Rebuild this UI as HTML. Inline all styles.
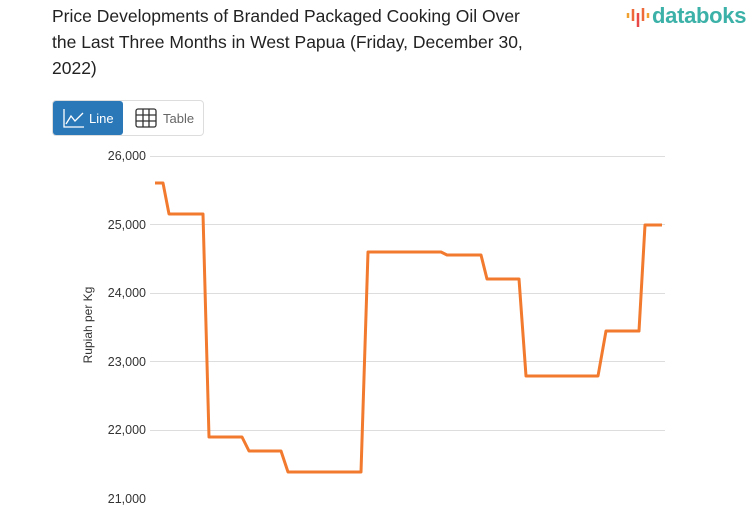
<!DOCTYPE html>
<html><head><style>
body{margin:0;width:753px;height:498px;overflow:hidden;background:#fff;font-family:"Liberation Sans",sans-serif;position:relative}
.t{position:absolute;left:52px;top:3px;font-size:17.5px;line-height:26px;color:#222;width:495px}
.logo{position:absolute;left:652px;top:3px;font-size:22px;color:#3bb1a8;font-weight:bold;letter-spacing:-0.3px}
.btns{position:absolute;left:52px;top:100px;width:150px;height:34px;border:1px solid #ddd;border-radius:4px}
.b1{position:absolute;left:0;top:0;width:70px;height:34px;background:#2a78b8;border-radius:3px;color:#fff;font-size:13px}
.b2{position:absolute;left:82px;top:0;font-size:13px;color:#666}
.yl{position:absolute;font-size:12.5px;color:#333;text-align:right;width:80px;left:66px}
</style></head><body>
<div class="t">Price Developments of Branded Packaged Cooking Oil Over the Last Three Months in West Papua (Friday, December 30, 2022)</div>
<svg style="position:absolute;left:626px;top:5px" width="24" height="22"><g stroke-width="2.5"><line x1="2" y1="8" x2="2" y2="13" stroke="#f0a030"/><line x1="7" y1="4" x2="7" y2="16" stroke="#ee6a3a"/><line x1="12" y1="8" x2="12" y2="22" stroke="#e84848"/><line x1="17" y1="3" x2="17" y2="16" stroke="#ee6a3a"/><line x1="22" y1="8" x2="22" y2="13" stroke="#f0a030"/></g></svg>
<div class="logo">databoks</div>
<div class="btns"><div class="b1"><svg style="position:absolute;left:10px;top:7px" width="22" height="20" fill="none" stroke="#fff" stroke-width="1.3"><path d="M1 1V19H21M3 16L8 8L12 13L20 5"/></svg><span style="position:absolute;left:36px;top:10px">Line</span></div>
<div class="b2"><svg style="position:absolute;left:0;top:7px" width="22" height="20" fill="none" stroke="#333" stroke-width="1.3"><rect x="1" y="1" width="20" height="18" rx="2"/><path d="M1 7H21M1 13H21M8 1V19M14 1V19"/></svg><span style="position:absolute;left:28px;top:10px">Table</span></div></div>
<svg style="position:absolute;left:0;top:0" width="753" height="498">
<g stroke="#ddd" stroke-width="1"><line x1="150" y1="156.5" x2="665" y2="156.5"/><line x1="150" y1="224.5" x2="665" y2="224.5"/><line x1="150" y1="293.5" x2="665" y2="293.5"/><line x1="150" y1="361.5" x2="665" y2="361.5"/><line x1="150" y1="430.5" x2="665" y2="430.5"/></g>
<text x="92" y="325" font-size="12" fill="#333" transform="rotate(-90 92 325)" text-anchor="middle" font-family="Liberation Sans">Rupiah per Kg</text>
<polyline fill="none" stroke="#f27a2e" stroke-width="3" stroke-linejoin="round" points="155,183 163,183 169,214 203,214 209,437 242,437 249,451 281,451 288,472 361,472 368,252 441,252 447,255 481,255 487,279 519,279 526,376 598,376 606,331 639,331 645,225 662,225"/>
</svg>
<div class="yl" style="top:149px">26,000</div>
<div class="yl" style="top:218px">25,000</div>
<div class="yl" style="top:286px">24,000</div>
<div class="yl" style="top:355px">23,000</div>
<div class="yl" style="top:423px">22,000</div>
<div class="yl" style="top:492px">21,000</div>
</body></html>
